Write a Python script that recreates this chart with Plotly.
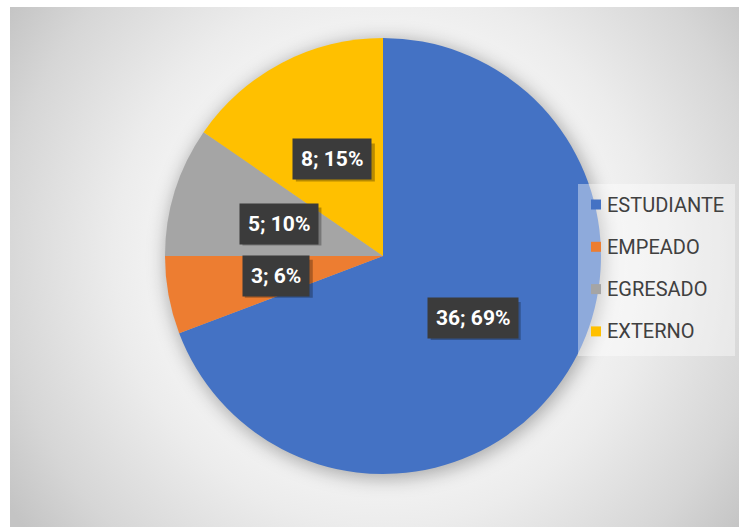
import base64, math
import plotly.graph_objects as go

labels = ["ESTUDIANTE", "EMPEADO", "EGRESADO", "EXTERNO"]
values = [36, 3, 5, 8]
colors = ["#4472C4", "#ED7D31", "#A5A5A5", "#FFC000"]

W, H = 739, 527
# chart area (pixels)
AX0, AY0 = 10, 7
# pie geometry (pixels)
CX, CY, R = 383, 256, 218

def px(x):
    return x / W

def py(y):
    return 1 - y / H

# background: radial gradient + soft shadow under pie (SVG image)
bw, bh = W - AX0, H - AY0
svg = f'''<svg xmlns="http://www.w3.org/2000/svg" width="{bw}" height="{bh}" viewBox="0 0 {bw} {bh}" preserveAspectRatio="none">
<defs>
<radialGradient id="g" gradientUnits="userSpaceOnUse" cx="{CX-AX0}" cy="{CY-AY0}" r="450">
<stop offset="0" stop-color="#ffffff"/>
<stop offset="0.35" stop-color="#fbfbfb"/>
<stop offset="0.6" stop-color="#ececec"/>
<stop offset="0.85" stop-color="#d6d6d6"/>
<stop offset="1" stop-color="#c4c4c4"/>
</radialGradient>
<filter id="b" x="-30%" y="-30%" width="160%" height="160%"><feGaussianBlur stdDeviation="9"/></filter>
</defs>
<rect x="0" y="0" width="{bw}" height="{bh}" fill="url(#g)"/>
<circle cx="{CX-AX0+2}" cy="{CY-AY0+3}" r="{R+2}" fill="#000" fill-opacity="0.3" filter="url(#b)"/>
</svg>'''
src = "data:image/svg+xml;base64," + base64.b64encode(svg.encode()).decode()

fig = go.Figure(go.Pie(
    labels=labels, values=values, sort=False, direction="clockwise", rotation=0,
    marker=dict(colors=colors, line=dict(width=0)),
    textinfo="none", hoverinfo="label+value+percent", showlegend=False,
    domain=dict(x=[px(CX - R), px(CX + R)], y=[py(CY + R), py(CY - R)]),
))

annotations = []
shapes = []
total = sum(values)
cum = 0
lab_font = dict(family="Roboto", size=21, color="#ffffff")
for lab, v in zip(labels, values):
    mid = (cum + v / 2) / total * 2 * math.pi
    cum += v
    x = CX + 0.5 * R * math.sin(mid)
    y = CY - 0.5 * R * math.cos(mid)
    pct = round(100 * v / total)
    plain = f"{v}; {pct}%"
    bwid = 11 * len(plain) + 13
    # soft shadow behind the label box
    shapes.append(dict(type="rect", xref="paper", yref="paper",
                       xsizemode="pixel", ysizemode="pixel",
                       xanchor=px(x), yanchor=py(y),
                       x0=-bwid / 2 + 3, x1=bwid / 2 + 3, y0=-19 - 3, y1=19 - 3,
                       fillcolor="rgba(0,0,0,0.28)", line=dict(width=0), layer="above"))
    annotations.append(dict(
        x=px(x), y=py(y), xref="paper", yref="paper", showarrow=False,
        text=f"<b>{plain}</b>", font=lab_font,
        bgcolor="#3b3b3b", borderpad=8, xanchor="center", yanchor="middle",
    ))

# legend (manual)
LX0, LX1, LY0, LY1 = 578, 735, 184, 356
shapes.append(dict(type="rect", xref="paper", yref="paper",
                   x0=px(LX0), x1=px(LX1), y0=py(LY1), y1=py(LY0),
                   fillcolor="rgba(255,255,255,0.4)", line=dict(width=0), layer="above"))
ly0, dy = 204.5, 42.3
for i, (lab, c) in enumerate(zip(labels, colors)):
    yc = ly0 + i * dy
    shapes.append(dict(type="rect", xref="paper", yref="paper",
                       x0=px(591), x1=px(601), y0=py(yc + 5), y1=py(yc - 5),
                       fillcolor=c, line=dict(width=0), layer="above"))
    annotations.append(dict(
        x=px(605), y=py(yc), xref="paper", yref="paper", showarrow=False,
        text=lab, font=dict(family="Roboto", size=20, color="#404040"),
        xanchor="left", yanchor="middle",
    ))

fig.update_layout(
    width=W, height=H, margin=dict(l=0, r=0, t=0, b=0),
    paper_bgcolor="#ffffff", plot_bgcolor="rgba(0,0,0,0)",
    images=[dict(source=src, xref="paper", yref="paper", x=px(AX0), y=py(AY0),
                 sizex=px(bw), sizey=bh / H, xanchor="left", yanchor="top",
                 sizing="stretch", layer="below")],
    shapes=shapes, annotations=annotations,
)

fig.write_html("out.html")
